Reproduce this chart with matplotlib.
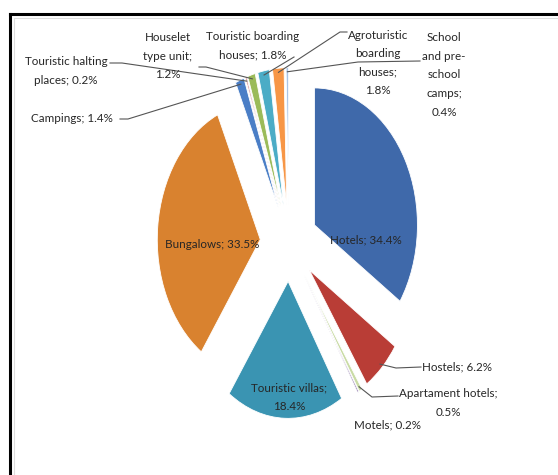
import numpy as np
import matplotlib.pyplot as plt

# accommodation types, share of capacity (%)
labels = ['Hotels', 'Hostels', 'Apartament hotels', 'Motels', 'Touristic villas',
          'Bungalows', 'Campings', 'Touristic halting places', 'Houselet type unit',
          'Touristic boarding houses', 'Agroturistic boarding houses',
          'School and pre-school camps']
shares = [34.4, 6.2, 0.5, 0.2, 18.4, 33.5, 1.4, 0.2, 1.2, 1.8, 1.8, 0.4]
colors = ['#3F69AA', '#B93D36', '#C9DBA5', '#7A5E9C', '#3A94B2', '#D9822F',
          '#4A7EC6', '#C0504D', '#9BBB59', '#4BACC6', '#F79646', '#A9C4E6']

# label text as drawn, label position in pixels
label_text = {
    'Hotels': 'Hotels; 34.4%',
    'Bungalows': 'Bungalows; 33.5%',
    'Touristic villas': 'Touristic villas;\n18.4%',
    'Hostels': 'Hostels; 6.2%',
    'Apartament hotels': 'Apartament hotels;\n0.5%',
    'Motels': 'Motels; 0.2%',
    'Campings': 'Campings; 1.4%',
    'Touristic halting places': 'Touristic halting\nplaces; 0.2%',
    'Houselet type unit': 'Houselet\ntype unit;\n1.2%',
    'Touristic boarding houses': 'Touristic boarding\nhouses; 1.8%',
    'Agroturistic boarding houses': 'Agroturistic\nboarding\nhouses;\n1.8%',
    'School and pre-school camps': 'School\nand pre-\nschool\ncamps;\n0.4%',
}
label_pos = {
    'Hotels': (366, 240), 'Bungalows': (212, 245), 'Touristic villas': (289, 397),
    'Hostels': (457, 367), 'Apartament hotels': (448, 403), 'Motels': (388, 425),
    'Campings': (72, 118), 'Touristic halting places': (66, 71),
    'Houselet type unit': (168, 56), 'Touristic boarding houses': (253, 46),
    'Agroturistic boarding houses': (378, 63), 'School and pre-school camps': (444, 75),
}
# where each leader line leaves its label (pixels)
leader_start = {
    'Hostels': [(421, 367), (396, 368)],
    'Apartament hotels': [(398, 396), (372, 397)],
    'Campings': [(120, 119), (128, 119)],
    'Touristic halting places': [(110, 63), (122, 63)],
    'Houselet type unit': [(199, 67), (206, 67)],
    'Touristic boarding houses': [(294, 57)],
    'Agroturistic boarding houses': [(347, 32), (340, 32)],
    'School and pre-school camps': [(420, 61), (358, 62)],
}

W, H = 558, 475
cx, cy = 289, 243          # pie centre in pixels
rx, ry = 103, 137          # pixels per radius unit (stretched chart)
explode = 0.28


def px(x, y):
    return (x - cx) / rx, (cy - y) / ry


fig = plt.figure(figsize=(W / 100, H / 100), dpi=100)
ax = fig.add_axes([0, 0, 1, 1])
plt.rcParams['font.family'] = ['Lato', 'DejaVu Sans']

wedges, _ = ax.pie(shares, colors=colors, startangle=90, counterclock=False,
                   explode=[explode] * len(shares),
                   wedgeprops=dict(edgecolor='white', linewidth=0.6))
ax.set_aspect('auto')
ax.set_xlim(-cx / rx, (W - cx) / rx)
ax.set_ylim(-(H - cy) / ry, cy / ry)
ax.axis('off')

for name, w in zip(labels, wedges):
    x, y = px(*label_pos[name])
    ax.text(x, y, label_text[name], ha='center', va='center', fontsize=8.4,
            color='#262626', linespacing=1.85)
    if name in leader_start:
        # anchor on the outer edge of the exploded wedge
        mid = np.deg2rad((w.theta1 + w.theta2) / 2)
        ox, oy = w.center
        ax_, ay_ = ox + 0.97 * np.cos(mid), oy + 0.97 * np.sin(mid)
        pts = [px(*p) for p in leader_start[name]] + [(ax_, ay_)]
        ax.plot([p[0] for p in pts], [p[1] for p in pts], color='#555555', lw=0.8)

# chart frame (cropped screenshot: top and left edges visible)
fig.add_artist(plt.Line2D([10 / W, 1], [1 - 14 / H, 1 - 14 / H], color='black', lw=2.2))
fig.add_artist(plt.Line2D([10 / W, 10 / W], [0, 1 - 14 / H], color='black', lw=2.2))
fig.add_artist(plt.Line2D([14 / W, 1], [1 - 18 / H, 1 - 18 / H], color='#dddddd', lw=0.8))
fig.add_artist(plt.Line2D([14 / W, 14 / W], [0, 1 - 18 / H], color='#dddddd', lw=0.8))

fig.savefig('out.png', dpi=100)
